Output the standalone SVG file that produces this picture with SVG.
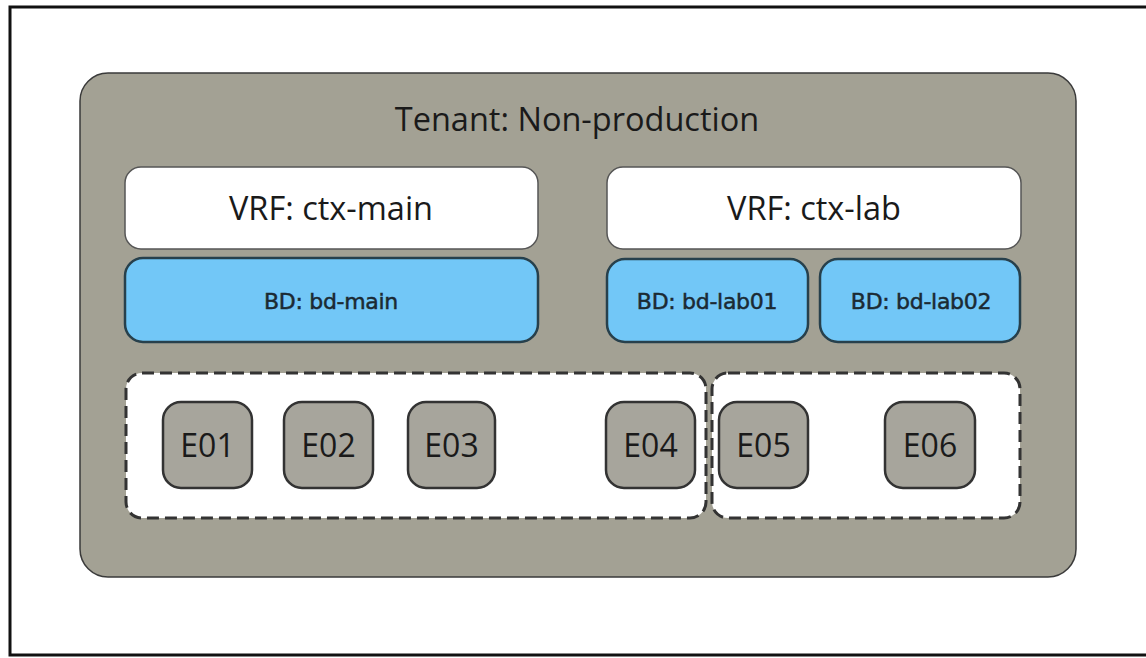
<svg xmlns="http://www.w3.org/2000/svg" width="1146" height="658" viewBox="0 0 1146 658">
<style>
.frame{fill:none;stroke:#111;stroke-width:3}
.tenant{fill:#a3a194;stroke:#3a3a3a;stroke-width:1.5}
.vrf{fill:#fff;stroke:#555;stroke-width:1.5}
.bd{fill:#72c7f7;stroke:#27404c;stroke-width:2.5}
.grp{fill:#fff;stroke:#333;stroke-width:3;stroke-dasharray:12 6}
.ep{fill:#a7a59c;stroke:#333;stroke-width:2.5}
.lbl{font-family:"Open Sans","Noto Sans",sans-serif;fill:#1a1a1a;text-anchor:middle}
.big{font-size:32.5px}
.ebl{font-size:32px}
.bdt{font-family:"DejaVu Sans",sans-serif;font-size:22px;fill:#1b2a33;stroke:#1b2a33;stroke-width:0.5;text-anchor:middle;letter-spacing:-0.3px}
</style>
<rect id="bg" x="0" y="0" width="1146" height="658" fill="#fff"/>
<path class="frame" d="M1150 7 H10 V655 H1150"/>
<g id="tenant">
  <rect class="tenant" x="80" y="73" width="996" height="504" rx="28"/>
  <text class="lbl big" x="577" y="131">Tenant: Non-production</text>
</g>
<g id="vrf-main">
  <rect class="vrf" x="125" y="167" width="413" height="82" rx="16"/>
  <text class="lbl big" x="331" y="220">VRF: ctx-main</text>
</g>
<g id="vrf-lab">
  <rect class="vrf" x="607" y="167" width="414" height="82" rx="16"/>
  <text class="lbl big" x="814" y="220">VRF: ctx-lab</text>
</g>
<g id="bd-main">
  <rect class="bd" x="125" y="258" width="413" height="84" rx="18"/>
  <text class="bdt" x="331" y="309">BD: bd-main</text>
</g>
<g id="bd-lab01">
  <rect class="bd" x="607" y="259" width="201" height="83" rx="18"/>
  <text class="bdt" x="707" y="309">BD: bd-lab01</text>
</g>
<g id="bd-lab02">
  <rect class="bd" x="820" y="259" width="200" height="83" rx="18"/>
  <text class="bdt" x="921" y="309">BD: bd-lab02</text>
</g>
<g id="epg-main">
  <rect class="grp" x="126" y="373" width="580" height="145" rx="16"/>
</g>
<g id="epg-lab">
  <rect class="grp" x="712" y="373" width="308" height="145" rx="16"/>
</g>
<g id="E01"><rect class="ep" x="163" y="402" width="89" height="86" rx="18"/><text class="lbl ebl" x="207.5" y="457">E01</text></g>
<g id="E02"><rect class="ep" x="284" y="402" width="89" height="86" rx="18"/><text class="lbl ebl" x="328.5" y="457">E02</text></g>
<g id="E03"><rect class="ep" x="408" y="402" width="87" height="86" rx="18"/><text class="lbl ebl" x="451.5" y="457">E03</text></g>
<g id="E04"><rect class="ep" x="606" y="402" width="89" height="86" rx="18"/><text class="lbl ebl" x="650.5" y="457">E04</text></g>
<g id="E05"><rect class="ep" x="719" y="402" width="89" height="86" rx="18"/><text class="lbl ebl" x="763.5" y="457">E05</text></g>
<g id="E06"><rect class="ep" x="885" y="402" width="90" height="86" rx="18"/><text class="lbl ebl" x="930" y="457">E06</text></g>
<g id="connectors"></g>
</svg>
